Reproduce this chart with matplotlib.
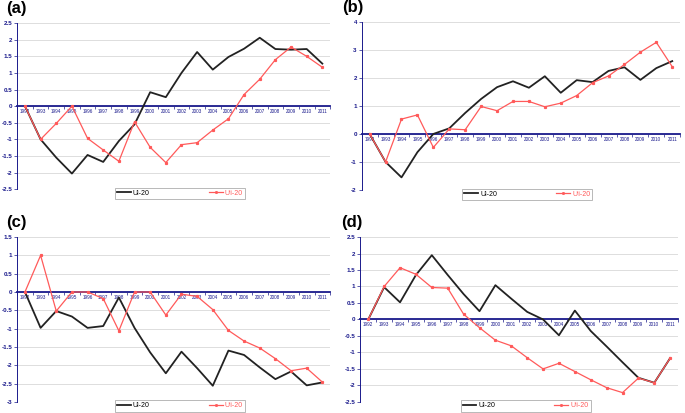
import matplotlib.pyplot as plt
import numpy as np

plt.rcParams['font.family'] = ['Liberation Sans', 'DejaVu Sans']

# === 数据 ===
years = [str(y) for y in range(1992, 2012)]

a_ui = [0, -1.0, -1.55, -2.03, -1.47, -1.68, -1.05, -0.55, 0.42, 0.27,
        1.0, 1.63, 1.1, 1.48, 1.73, 2.06, 1.72, 1.70, 1.72, 1.28]
a_upi = [0, -1.0, -0.52, 0, -0.97, -1.32, -1.66, -0.47, -1.24, -1.70,
         -1.16, -1.10, -0.72, -0.38, 0.35, 0.81, 1.40, 1.78, 1.50, 1.17]

b_ui = [0, -1.0, -1.55, -0.65, 0.0, 0.2, 0.75, 1.25, 1.67, 1.88,
        1.65, 2.06, 1.47, 1.92, 1.85, 2.25, 2.38, 1.93, 2.35, 2.6]
b_upi = [0, -1.0, 0.53, 0.68, -0.48, 0.18, 0.15, 0.98, 0.83, 1.16,
         1.16, 0.97, 1.1, 1.37, 1.83, 2.07, 2.48, 2.92, 3.27, 2.4]

c_ui = [0, -0.98, -0.52, -0.67, -0.98, -0.93, -0.15, -0.98, -1.65, -2.22,
        -1.63, -2.08, -2.56, -1.6, -1.72, -2.06, -2.38, -2.17, -2.55, -2.47]
c_upi = [0, 1.0, -0.52, 0, 0, -0.18, -1.06, 0, 0, -0.63,
         -0.06, -0.12, -0.48, -1.05, -1.34, -1.53, -1.82, -2.15, -2.08, -2.46]

d_ui = [0, 0.98, 0.52, 1.35, 1.95, 1.35, 0.77, 0.25, 1.04, 0.63,
        0.23, 0.0, -0.48, 0.27, -0.35, -0.82, -1.3, -1.77, -1.92, -1.17]
d_upi = [0, 1.0, 1.57, 1.37, 0.97, 0.95, 0.16, -0.25, -0.63, -0.8,
         -1.16, -1.5, -1.33, -1.58, -1.83, -2.07, -2.22, -1.78, -1.92, -1.17]

panels = [
    ("(a)", a_ui, a_upi, (-2.5, 2.5), 0.5, [0.025, 0.542, 0.457, 0.402]),
    ("(b)", b_ui, b_upi, (-2, 4), 1, [0.528, 0.540, 0.465, 0.407]),
    ("(c)", c_ui, c_upi, (-3, 1.5), 0.5, [0.025, 0.027, 0.457, 0.399]),
    ("(d)", d_ui, d_upi, (-2.5, 2.5), 0.5, [0.526, 0.027, 0.464, 0.399]),
]

NAVY = '#1a1a8c'
RED = '#ff5a5a'

fig = plt.figure(figsize=(6.85, 4.13), dpi=100)

for label, ui, upi, ylim, step, rect in panels:
    ax = fig.add_axes(rect)
    x = np.arange(len(years))
    ax.plot(x, ui, color='#222222', lw=1.3, label='Ui-20', zorder=3)
    ax.plot(x, upi, color=RED, lw=0.9, marker='s', ms=1.3, label="U'i-20", zorder=4)

    ax.set_xlim(-0.5, len(years) - 0.5)
    ax.set_ylim(*ylim)
    yt = np.arange(ylim[0], ylim[1] + step / 2, step)
    ax.set_yticks(yt)
    ax.set_yticklabels([f"{v:g}" for v in yt], fontsize=4.5, color=NAVY, fontweight='bold')
    ax.grid(axis='y', color='#d8d8d8', lw=0.6)
    ax.set_axisbelow(True)

    ax.spines['top'].set_visible(False)
    ax.spines['right'].set_visible(False)
    ax.spines['left'].set_color(NAVY)
    ax.spines['left'].set_linewidth(0.7)
    ax.spines['bottom'].set_position(('data', 0))
    ax.spines['bottom'].set_color(NAVY)
    ax.spines['bottom'].set_linewidth(1.3)
    ax.spines['bottom'].set_zorder(2)

    ax.set_xticks(x)
    ax.set_xticklabels(years, fontsize=3.3, color=NAVY)
    ax.set_xticks(np.arange(-0.5, len(years), 1), minor=True)
    ax.tick_params(axis='x', which='major', length=0, pad=2)
    ax.tick_params(axis='x', which='minor', length=2, color=NAVY, width=0.5)
    ax.tick_params(axis='y', length=2, color=NAVY, width=0.5, pad=1.5)

    leg = ax.legend(loc='center', bbox_to_anchor=(0.52, -0.025), ncol=2,
                    fontsize=5, frameon=True, fancybox=False, handlelength=2.0,
                    columnspacing=8.5, borderpad=0.3, handletextpad=0.3, markerscale=0.8)
    leg.get_frame().set_edgecolor('#999999')
    leg.get_frame().set_linewidth(0.6)
    leg.get_texts()[1].set_color(RED)
    leg.set_zorder(5)

    ax.text(-0.035 if rect[0] < 0.1 else -0.06, 1.04, label, transform=ax.transAxes,
            fontsize=12, fontweight='bold', ha='left', va='bottom')

fig.savefig("out.png", dpi=100)
